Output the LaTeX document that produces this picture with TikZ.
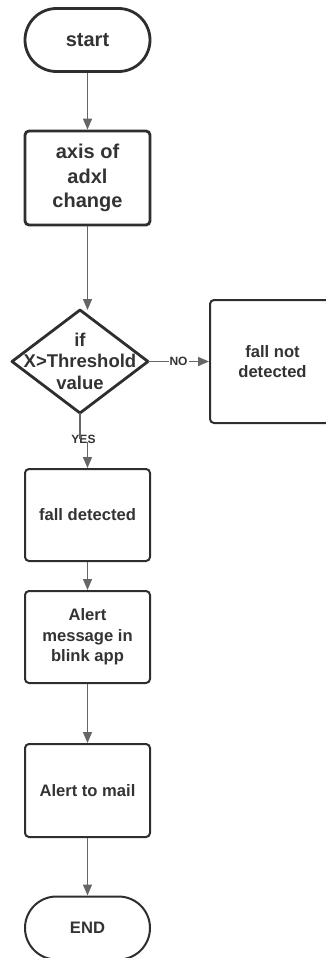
\documentclass[tikz,border=0pt]{standalone}
\usepackage{fontspec}
\setmainfont{Liberation Sans}
\usetikzlibrary{arrows.meta,calc}
\definecolor{txt}{HTML}{333333}
\definecolor{bord}{HTML}{2E2E2E}
\definecolor{arr}{HTML}{666666}
\tikzset{
  stadium/.style={draw=bord, rounded corners=31.5pt, minimum width=125pt, minimum height=63pt, inner sep=0pt},
  boxthick/.style={draw=bord, line width=2.8pt, rounded corners=4pt, minimum width=125pt, minimum height=94pt, inner sep=0pt, align=center, text=txt, font=\bfseries\fontsize{20}{24.5}\selectfont},
  boxthin/.style={draw=bord, line width=2pt, rounded corners=4pt, minimum width=125pt, minimum height=92pt, inner sep=0pt, align=center, text=txt, font=\bfseries\fontsize{16.6}{20.5}\selectfont},
  conn/.style={draw=arr, line width=1.5pt, -{Triangle[length=11pt,width=9pt]}},
  plain/.style={draw=arr, line width=1.5pt},
  lbl/.style={fill=white, inner sep=1pt, text=txt, font=\bfseries\fontsize{12}{12}\selectfont},
}
\begin{document}
\begin{tikzpicture}[x=1pt,y=-1pt]
\useasboundingbox (0,0) rectangle (326,958);
\clip (0,0) rectangle (326,958);
% start
\node[stadium, line width=2.8pt, text=txt, font=\bfseries\fontsize{20}{24}\selectfont] (start) at (87.5,40) {start};
% axis
\node[boxthick] (axis) at (87.5,178) {axis of\\adxl\\change};
% diamond
\coordinate (diaN) at (80,310);
\coordinate (diaE) at (148,361.5);
\coordinate (diaS) at (80,413);
\coordinate (diaW) at (12,361.5);
\draw[draw=bord, line width=2.8pt, line join=round] (diaN) -- (diaE) -- (diaS) -- (diaW) -- cycle;
\node[align=center, text=txt, inner sep=0pt, font=\bfseries\fontsize{18.5}{21.5}\selectfont] (dia) at (80,361) {if\\X>Threshold\\value};
% fall not detected
\node[boxthin, minimum height=123pt] (fnd) at (272.5,361.5) {fall not\\detected};
% fall detected
\node[boxthin] (fd) at (87.5,515) {fall detected};
% alert
\node[boxthin] (alert) at (87.5,637) {Alert\\message in\\blink app};
% mail
\node[boxthin, minimum height=93pt] (mail) at (87.5,790.5) {Alert to mail};
% end
\node[stadium, line width=2pt, text=txt, font=\bfseries\fontsize{16.6}{20}\selectfont] (end) at (87.5,928) {END};
% connectors
\draw[conn] (start.south) -- (axis.north);
\draw[conn] (axis.south) -- (axis.south|-diaN);
\draw[conn] (diaE) -- node[lbl, pos=0.5] (no) {NO} (fnd.west);
\coordinate (yesA) at ($(diaS)+(0,26)$);
\node[lbl] (yes) at (83.5,439) {YES};
\coordinate (yesB) at ($(fd.north)+(0,-26)$);
\draw[plain] (diaS) -- (yesA);
\draw[conn] (yesB) -- (fd.north);
\draw[conn] (fd.south) -- (alert.north);
\draw[conn] (alert.south) -- (mail.north);
\draw[conn] (mail.south) -- (end.north);
\end{tikzpicture}
\end{document}
